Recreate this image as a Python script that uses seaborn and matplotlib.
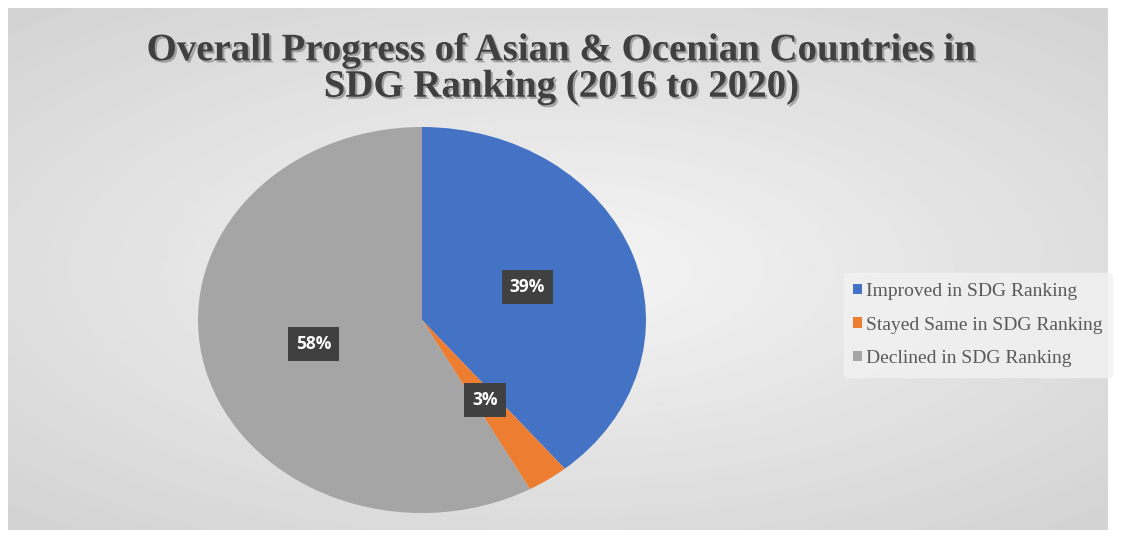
import numpy as np
import matplotlib.pyplot as plt
import matplotlib.patheffects as pe
import seaborn as sns

# ── Data ──────────────────────────────────────────────────────────────────────
categories = ["Improved in SDG Ranking", "Stayed Same in SDG Ranking", "Declined in SDG Ranking"]
shares = [39, 3, 58]
colors = ["#4472C4", "#ED7D31", "#A5A5A5"]
title = "Overall Progress of Asian & Ocenian Countries in\nSDG Ranking (2016 to 2020)"

sns.set_theme(style="white")
plt.rcParams["font.family"] = ["Liberation Serif", "DejaVu Serif"]

W, H = 1123, 539
fig = plt.figure(figsize=(W / 100, H / 100), dpi=100)
fig.patch.set_facecolor("white")

# ── Background panel with soft radial gradient ────────────────────────────────
bg = fig.add_axes([8 / W, 1 - 530 / H, 1100 / W, 522 / H])
yy, xx = np.mgrid[-1:1:200j, -1:1:400j]
rr = np.sqrt((xx / 1.1) ** 2 + (yy / 1.0) ** 2)
bg.imshow(0.96 - 0.10 * np.clip(rr, 0, 1.4), cmap="gray", vmin=0, vmax=1,
          aspect="auto", extent=[0, 1, 0, 1])
bg.set_axis_off()

fig.text(0.5, 1 - 69 / H, title, ha="center", va="center", fontsize=28,
         fontweight="bold", color="#404040", linespacing=0.98,
         path_effects=[pe.withSimplePatchShadow(offset=(1.5, -1.5), alpha=0.3)])

# ── Pie ───────────────────────────────────────────────────────────────────────
cx, cy, rx, ry = 422, 320, 224, 193
ax = fig.add_axes([(cx - rx) / W, 1 - (cy + ry) / H, 2 * rx / W, 2 * ry / H])
wedges, _, autotexts = ax.pie(shares, colors=colors, startangle=90, counterclock=False,
                              autopct="%.0f%%", pctdistance=0.5,
                              wedgeprops=dict(linewidth=0))
ax.set_aspect("auto")
ax.set_xlim(-1, 1)
ax.set_ylim(-1, 1)
for t in autotexts:
    t.set_family(["Open Sans", "DejaVu Sans"])
    t.set_fontweight("bold")
    t.set_fontsize(12.5)
    t.set_color("white")
    t.set_bbox(dict(boxstyle="square,pad=0.45", facecolor="#404040", edgecolor="none"))

# ── Legend ────────────────────────────────────────────────────────────────────
leg = fig.legend(wedges, categories, loc="center left",
                 bbox_to_anchor=(834 / W, 1 - 325 / H), frameon=True,
                 fontsize=14, handlelength=0.45, handleheight=0.45, handletextpad=0.2,
                 labelspacing=0.85, borderpad=0.5, labelcolor="#595959")
leg.get_frame().set_facecolor("#f2f2f2")
leg.get_frame().set_edgecolor("#f2f2f2")
leg.get_frame().set_alpha(0.8)

fig.savefig("out.png", dpi=100)
